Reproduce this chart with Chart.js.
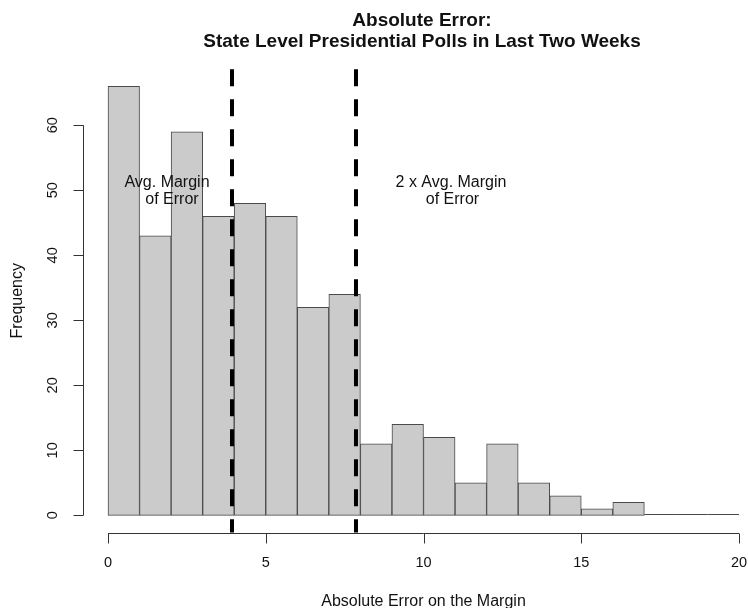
<!DOCTYPE html>
<html>
<head>
<meta charset="utf-8">
<script src="https://cdn.jsdelivr.net/npm/chart.js@4.4.1/dist/chart.umd.min.js"></script>
<style>
  html, body { margin: 0; padding: 0; background: #fff; }
  #wrap { width: 748px; height: 608px; }
</style>
</head>
<body>
<div id="wrap"><canvas id="histChart" width="748" height="608"></canvas></div>
<script>
const binEdges = [0, 1, 2, 3, 4, 5, 6, 7, 8, 9, 10, 11, 12, 13, 14, 15, 16, 17, 18, 19, 20];
const counts = [66, 43, 59, 46, 48, 46, 32, 34, 11, 14, 12, 5, 11, 5, 3, 1, 2, 0, 0, 0];
const xTicks = [0, 5, 10, 15, 20];
const yTicks = [0, 10, 20, 30, 40, 50, 60];
const marginLines = [3.93, 7.86];
const avgNote = ['Avg. Margin', 'of Error'];
const doubleNote = ['2 x Avg. Margin', 'of Error'];
const titleLines = ['Absolute Error:', 'State Level Presidential Polls in Last Two Weeks'];
const xTitle = 'Absolute Error on the Margin';
const yTitle = 'Frequency';

const FONT = "'Liberation Sans', Arial, Helvetica, sans-serif";

// R-style axes, ablines and text drawn on top of the bars
const rStyle = {
    id: 'rStyle',
    afterDatasetsDraw(chart) {
        const { ctx, chartArea: area, scales: { x, y } } = chart;
        ctx.save();

        // empty bins show as flat lines on the baseline
        ctx.strokeStyle = '#4a4a4a';
        ctx.lineWidth = 1;
        counts.forEach((c, i) => {
            if (c !== 0) return;
            const y0 = Math.round(y.getPixelForValue(0)) - 0.5;
            ctx.beginPath();
            ctx.moveTo(x.getPixelForValue(binEdges[i]), y0);
            ctx.lineTo(x.getPixelForValue(binEdges[i + 1]), y0);
            ctx.stroke();
        });

        // dashed margin lines
        ctx.strokeStyle = '#000';
        ctx.lineWidth = 4;
        ctx.setLineDash([17, 13]);
        marginLines.forEach(v => {
            const px = x.getPixelForValue(v);
            ctx.beginPath();
            ctx.moveTo(px, area.top);
            ctx.lineTo(px, area.bottom);
            ctx.stroke();
        });
        ctx.setLineDash([]);

        // y axis
        ctx.strokeStyle = '#333';
        ctx.lineWidth = 1;
        const ax = Math.round(area.left) + 0.5;
        ctx.beginPath();
        ctx.moveTo(ax, y.getPixelForValue(yTicks[0]));
        ctx.lineTo(ax, y.getPixelForValue(yTicks[yTicks.length - 1]));
        yTicks.forEach(t => {
            const py = Math.round(y.getPixelForValue(t)) + 0.5;
            ctx.moveTo(ax, py);
            ctx.lineTo(ax - 10, py);
        });
        ctx.stroke();

        // x axis
        const ay = Math.round(area.bottom) + 0.5;
        ctx.beginPath();
        ctx.moveTo(x.getPixelForValue(xTicks[0]), ay);
        ctx.lineTo(x.getPixelForValue(xTicks[xTicks.length - 1]), ay);
        xTicks.forEach(t => {
            const px = Math.round(x.getPixelForValue(t)) + 0.5;
            ctx.moveTo(px, ay);
            ctx.lineTo(px, ay + 10);
        });
        ctx.stroke();

        ctx.fillStyle = '#111';
        ctx.textAlign = 'center';
        ctx.textBaseline = 'middle';
        ctx.font = '14.5px ' + FONT;
        xTicks.forEach(t => ctx.fillText(String(t), x.getPixelForValue(t), area.bottom + 30));
        yTicks.forEach(t => {
            ctx.save();
            ctx.translate(area.left - 30, y.getPixelForValue(t));
            ctx.rotate(-Math.PI / 2);
            ctx.fillText(String(t), 0, 0);
            ctx.restore();
        });

        // axis titles
        ctx.font = '16px ' + FONT;
        const midX = (x.getPixelForValue(xTicks[0]) + x.getPixelForValue(xTicks[xTicks.length - 1])) / 2;
        ctx.textBaseline = 'alphabetic';
        ctx.fillText(xTitle, midX, 606);
        ctx.textBaseline = 'middle';
        ctx.save();
        ctx.translate(17.5, (area.top + area.bottom) / 2);
        ctx.rotate(-Math.PI / 2);
        ctx.fillText(yTitle, 0, 0);
        ctx.restore();

        // notes
        ctx.fillText(avgNote[0], 167, 183);
        ctx.fillText(avgNote[1], 172, 200);
        ctx.fillText(doubleNote[0], 451, 183);
        ctx.fillText(doubleNote[1], 452.5, 200);

        // title
        ctx.font = 'bold 19px ' + FONT;
        ctx.textBaseline = 'alphabetic';
        ctx.fillText(titleLines[0], 422, 26);
        ctx.fillText(titleLines[1], 422, 46.5);

        ctx.restore();
    }
};

new Chart(document.getElementById('histChart'), {
    type: 'bar',
    data: {
        datasets: [{
            data: counts.map((c, i) => ({ x: (binEdges[i] + binEdges[i + 1]) / 2, y: c })),
            backgroundColor: '#cbcbcb',
            borderColor: '#4a4a4a',
            borderWidth: 1,
            borderSkipped: false,
            barPercentage: 1,
            categoryPercentage: 1
        }]
    },
    options: {
        responsive: false,
        animation: false,
        devicePixelRatio: 1,
        layout: { padding: { left: 82.76, top: 69.14, right: 0, bottom: 75.5 } },
        plugins: { legend: { display: false }, tooltip: { enabled: false }, title: { display: false } },
        scales: {
            x: { type: 'linear', offset: false, min: -0.8, max: 20.285, display: false, ticks: { stepSize: 5, includeBounds: false } },
            y: { type: 'linear', min: -2.64, max: 68.64, display: false, ticks: { stepSize: 10, includeBounds: false } }
        }
    },
    plugins: [rStyle]
});
</script>
</body>
</html>
